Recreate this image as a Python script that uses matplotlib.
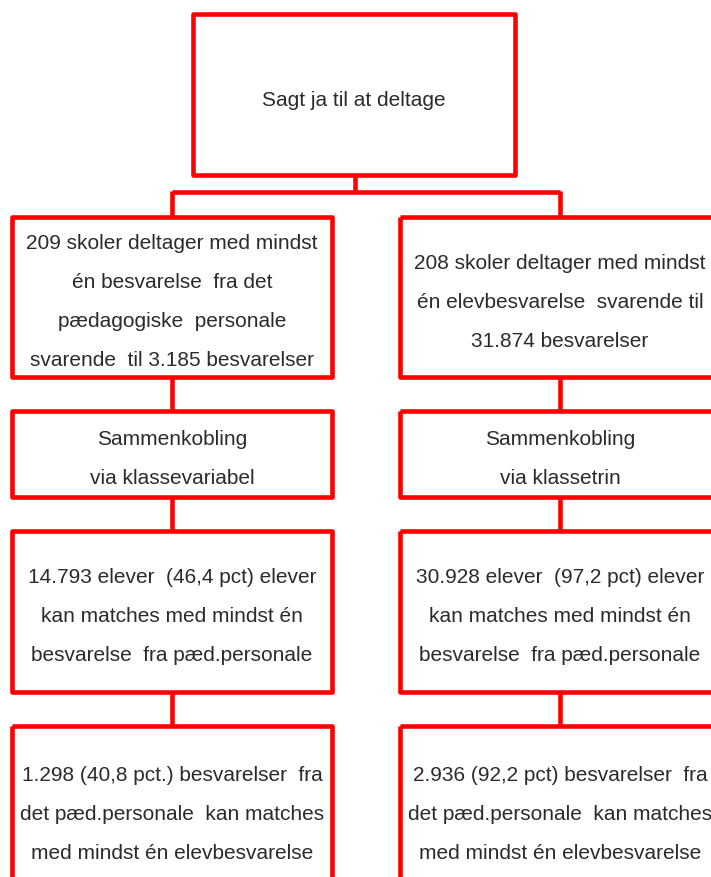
import matplotlib.pyplot as plt
from matplotlib.patches import Rectangle

plt.rcParams['font.family'] = ['Liberation Sans', 'DejaVu Sans']

# tekster i flowdiagrammet
top_lines = ["Sagt ja til at deltage"]

left_lines = [
    ["209 skoler deltager med mindst", "én besvarelse  fra det",
     "pædagogiske  personale", "svarende  til 3.185 besvarelser"],
    ["Sammenkobling", "via klassevariabel"],
    ["14.793 elever  (46,4 pct) elever", "kan matches med mindst én",
     "besvarelse  fra pæd.personale"],
    ["1.298 (40,8 pct.) besvarelser  fra", "det pæd.personale  kan matches",
     "med mindst én elevbesvarelse"],
]

right_lines = [
    ["208 skoler deltager med mindst", "én elevbesvarelse  svarende til",
     "31.874 besvarelser"],
    ["Sammenkobling", "via klassetrin"],
    ["30.928 elever  (97,2 pct) elever", "kan matches med mindst én",
     "besvarelse  fra pæd.personale"],
    ["2.936 (92,2 pct) besvarelser  fra", "det pæd.personale  kan matches",
     "med mindst én elevbesvarelse"],
]

RED = '#ff0000'
TXT = '#2b2b2b'
LW = 3.3
FS = 15
GAP = 39

fig = plt.figure(figsize=(7.11, 8.78), dpi=100)
ax = fig.add_axes([0, 0, 1, 1])
ax.set_xlim(0, 711)
ax.set_ylim(878, 0)
ax.axis('off')


def tegn_boks(x0, y0, x1, y1, linjer):
    ax.add_patch(Rectangle((x0, y0), x1 - x0, y1 - y0, fill=False,
                           ec=RED, lw=LW, joinstyle='round'))
    cx = (x0 + x1) / 2
    cy = (y0 + y1) / 2 + 4.5
    n = len(linjer)
    for i, s in enumerate(linjer):
        ax.text(cx, cy + (i - (n - 1) / 2) * GAP, s, ha='center', va='center',
                fontsize=FS, color=TXT)


def streg(xs, ys):
    ax.plot(xs, ys, color=RED, lw=LW, solid_capstyle='butt')


# top
tegn_boks(193, 15, 515, 176, top_lines)

kolonner = [(12, 332), (400, 720)]
raekker = [(218, 378), (412, 498), (532, 693), (727, 893)]

# forgrening fra top
streg([355, 355], [176, 193])
streg([172, 560], [193, 193])
for x0, x1 in kolonner:
    cx = (x0 + x1) / 2
    streg([cx, cx], [191.5, 218])

for (x0, x1), tekster in zip(kolonner, [left_lines, right_lines]):
    cx = (x0 + x1) / 2
    for j, ((y0, y1), linjer) in enumerate(zip(raekker, tekster)):
        tegn_boks(x0, y0, x1, y1, linjer)
        if j > 0:
            streg([cx, cx], [raekker[j - 1][1], y0])

fig.savefig('out.png', dpi=100, facecolor='white')
